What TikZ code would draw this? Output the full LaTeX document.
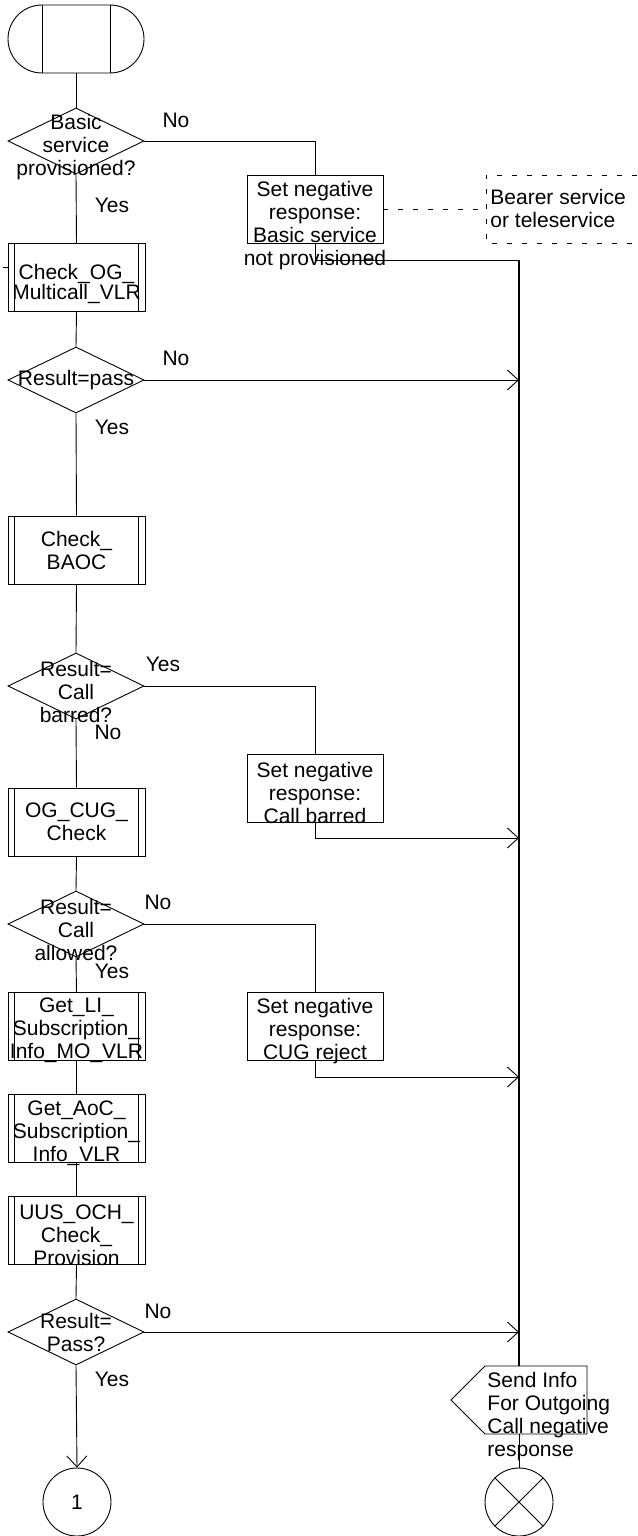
\documentclass[tikz,border=0pt]{standalone}
\usepackage{fontspec}
\setmainfont{Liberation Sans}
\usetikzlibrary{shapes.geometric,shapes.misc,arrows.meta,calc}
\begin{document}
\begin{tikzpicture}[x=1pt,y=-1pt,
  line width=0.9pt,
  every node/.style={font=\fontsize{21}{23}\selectfont, inner sep=0pt},
  terminal/.style={draw, rounded rectangle, minimum width=136pt, minimum height=68pt},
  decision/.style={draw, diamond, minimum width=136pt, minimum height=66pt},
  procbox/.style={draw, rectangle, minimum width=137pt, minimum height=68pt},
  taskbox/.style={draw, rectangle, minimum width=136pt, minimum height=68pt},
  conn/.style={draw, circle, minimum size=68pt},
  txt/.style={align=center},
  lbl/.style={},
  arr/.style={-{Straight Barb[length=11pt,width=20pt]}},
  bus/.style={line width=1.3pt},
  cmtline/.style={dash pattern=on 5pt off 10pt, line width=0.7pt}
]
\useasboundingbox[fill=white] (0,0) rectangle (637,1536);

% ---- shapes of the main column
\node[terminal] (st)   at (76,39)     {};
\node[decision] (d1)   at (76,141)    {};
\node[procbox]  (cog)  at (76.5,277.5) {};
\node[decision] (d2)   at (76,380)    {};
\node[procbox]  (baoc) at (76.5,550)  {};
\node[decision] (d3)   at (76,686)    {};
\node[procbox]  (cug)  at (76.5,822)  {};
\node[decision] (d4)   at (76,924)    {};
\node[procbox]  (li)   at (76.5,1026.5) {};
\node[procbox]  (aoc)  at (76.5,1128) {};
\node[procbox]  (uus)  at (76.5,1230.5) {};
\node[decision] (d5)   at (76,1332)   {};
\node[conn]     (c1)   at (77,1502)   {1};

% ---- shapes of the side column
\node[taskbox] (nb1) at (315,209) {};
\node[taskbox] (nb2) at (315,788) {};
\node[taskbox] (nb3) at (315,1026) {};
\node[conn]    (cx)  at (519,1502) {};

% output signal symbol (pointing left)
\coordinate (sigN) at (519,1366);
\coordinate (sigS) at (519,1434);
\draw (485,1366) -- (587,1366) -- (587,1434) -- (485,1434) -- (451,1400) -- cycle;

% ---- named points of the collecting line and the comment
\coordinate (colTop) at (519,260);
\coordinate (j2) at (519,838);
\coordinate (j3) at (519,1077);
\coordinate (cmtTop) at (486,175);
\coordinate (cmtBot) at (486,243);
\coordinate (cmtEndT) at (637,175);
\coordinate (cmtEndB) at (637,243);
\coordinate (stub) at (3,267);

% ---- decorations of the symbols
\draw ($(st.north)+(-34,0)$) -- ($(st.south)+(-34,0)$);
\draw ($(st.north)+(34,0)$) -- ($(st.south)+(34,0)$);
\foreach \n in {cog,baoc,cug,li,aoc,uus}{
  \draw ($(\n.north west)+(7,0)$) -- ($(\n.south west)+(7,0)$);
  \draw ($(\n.north east)+(-7,0)$) -- ($(\n.south east)+(-7,0)$);
}
\draw (cx.45) -- (cx.225);
\draw (cx.135) -- (cx.315);

% ---- texts
\node[txt] at (76,147) {Basic\\service\\provisioned?};
\node[txt, font=\fontsize{21}{19}\selectfont] at (76.5,284) {Check\_OG\_\\Multicall\_VLR};
\node[txt] at (76,380) {Result=pass};
\node[txt] at (76.5,550) {Check\_\\BAOC};
\node[txt] at (76,692) {Result=\\Call\\barred?};
\node[txt] at (76.5,822) {OG\_CUG\_\\Check};
\node[txt] at (76,930) {Result=\\Call\\allowed?};
\node[txt] at (76.5,1030.5) {Get\_LI\_\\Subscription\_\\Info\_MO\_VLR};
\node[txt] at (76.5,1133.5) {Get\_AoC\_\\Subscription\_\\Info\_VLR};
\node[txt] at (76.5,1235.5) {UUS\_OCH\_\\Check\_\\Provision};
\node[txt] at (76,1332) {Result=\\Pass?};

\node[txt] at (315,226) {Set negative\\response:\\Basic service\\not provisioned};
\node[txt] at (315,793) {Set negative\\response:\\Call barred};
\node[txt] at (315,1031) {Set negative\\response:\\CUG reject};
\node[align=left, anchor=west] at (490,208.5) {Bearer service\\or teleservice};
\node[align=left, anchor=west] at (487,1416.5) {Send Info\\For Outgoing\\Call negative\\response};

% ---- branch labels
\node[lbl] at (176,120) {No};
\node[lbl] at (112,205) {Yes};
\node[lbl] at (176,358) {No};
\node[lbl] at (112,427) {Yes};
\node[lbl] at (163,664) {Yes};
\node[lbl] at (108,732) {No};
\node[lbl] at (158,902) {No};
\node[lbl] at (112,971) {Yes};
\node[lbl] at (158,1311) {No};
\node[lbl] at (112,1379) {Yes};

% ---- connectors of the main column
\draw (st.south) -- (d1.north);
\draw (d1.south) -- (cog.north);
\draw (cog.south) -- (d2.north);
\draw (d2.south) -- (baoc.north);
\draw (baoc.south) -- (d3.north);
\draw (d3.south) -- (cug.north);
\draw (cug.south) -- (d4.north);
\draw (d4.south) -- (li.north);
\draw (li.south) -- (aoc.north);
\draw (aoc.south) -- (uus.north);
\draw (uus.south) -- (d5.north);
\draw[arr] (d5.south) -- (c1.north);
\draw (stub) -- (stub -| cog.west);

% ---- branches to the side column
\draw (d1.east) -| (nb1.north);
\draw (d3.east) -| (nb2.north);
\draw (d4.east) -| (nb3.north);
\draw (nb1.south) |- (colTop);
\draw[bus] (colTop) -- (sigN);
\draw[arr] (d2.east) -- (d2.east -| colTop);
\draw[arr] (nb2.south) |- (j2);
\draw[arr] (nb3.south) |- (j3);
\draw[arr] (d5.east) -- (d5.east -| colTop);
\draw (sigS) -- (cx.north);

% ---- comment
\draw[cmtline] (nb1.east) -- (nb1.east -| cmtTop);
\draw[cmtline] (cmtEndT) -- (cmtTop) -- (cmtBot) -- (cmtEndB);
\end{tikzpicture}
\end{document}
